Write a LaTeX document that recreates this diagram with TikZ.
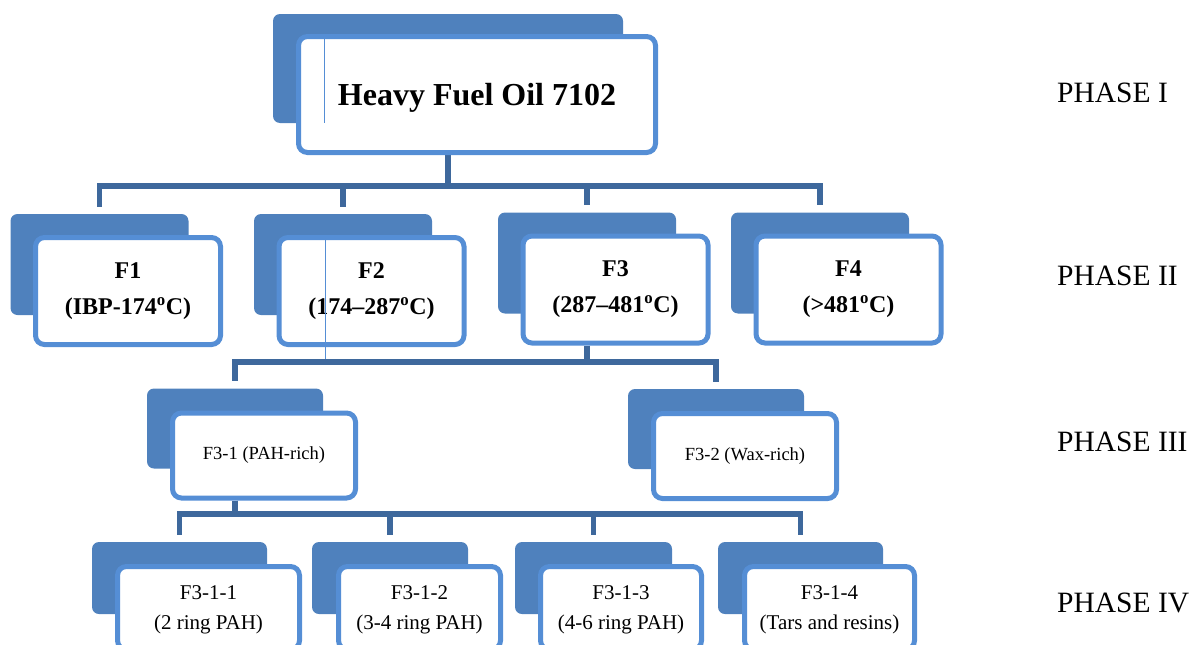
\documentclass[tikz,border=0pt]{standalone}
\usepackage{fontspec}
\setmainfont{Liberation Serif}
\usetikzlibrary{backgrounds,shadows}
\definecolor{shadeblue}{RGB}{79,129,189}
\definecolor{rimblue}{RGB}{85,142,213}
\definecolor{linkblue}{RGB}{62,104,156}

\begin{document}
\begin{tikzpicture}[x=1pt,y=-1pt,
  back box/.style={fill=shadeblue,rounded corners=7pt,inner sep=0pt},
  front box/.style={draw=rimblue,line width=5pt,fill=white,rounded corners=9pt,inner sep=0pt,align=center},
  link/.style={draw=linkblue,line width=5.5pt,shorten >=7pt},
  seam/.style={draw=rimblue,line width=0.8pt},
  phase/.style={anchor=base west,inner sep=0pt,font=\fontsize{29.5}{34}\selectfont},
  big/.style={font=\fontsize{32}{36}\selectfont\bfseries,text depth=0pt},
  cut/.style={font=\fontsize{24}{36}\selectfont\bfseries},
  sub/.style={font=\fontsize{18.5}{22}\selectfont},
  ring/.style={font=\fontsize{21}{30}\selectfont,text depth=0pt}]

\useasboundingbox (0,0) rectangle (1189,645);
\clip (0,0) rectangle (1189,645);

% phase I
\node[back box,minimum width=350pt,minimum height=109pt] (hfob) at (448,68.5) {};
\node[front box,big,minimum width=357pt,minimum height=116pt] (hfo) at (477,94.5) {Heavy Fuel Oil 7102};

% phase II
\node[back box,minimum width=178pt,minimum height=101pt] (f1b) at (99.5,264.5) {};
\node[back box,minimum width=178pt,minimum height=101pt] (f2b) at (343,264.5) {};
\node[back box,minimum width=178pt,minimum height=101pt] (f3b) at (587,263) {};
\node[back box,minimum width=178pt,minimum height=101pt] (f4b) at (820,263) {};
\node[front box,cut,minimum width=185pt,minimum height=107pt] (f1) at ([xshift=28.5pt,yshift=-26.5pt]f1b.center) {F1\\(IBP-174\textsuperscript{o}C)};
\node[front box,cut,minimum width=185pt,minimum height=107pt] (f2) at ([xshift=28.5pt,yshift=-26.5pt]f2b.center) {F2\\(174–287\textsuperscript{o}C)};
\node[front box,cut,minimum width=185pt,minimum height=107pt] (f3) at ([xshift=28.5pt,yshift=-26.5pt]f3b.center) {F3\\(287–481\textsuperscript{o}C)};
\node[front box,cut,minimum width=185pt,minimum height=107pt] (f4) at ([xshift=28.5pt,yshift=-26.5pt]f4b.center) {F4\\(>481\textsuperscript{o}C)};

% phase III
\node[back box,minimum width=176pt,minimum height=80pt] (f31b) at (235,428.5) {};
\node[back box,minimum width=176pt,minimum height=80pt] (f32b) at (716,429) {};
\node[front box,sub,minimum width=183pt,minimum height=85pt] (f31) at ([xshift=29pt,yshift=-27pt]f31b.center) {F3-1 (PAH-rich)};
\node[front box,sub,minimum width=183pt,minimum height=85pt,drop shadow={opacity=0.25,shadow xshift=1.5pt,shadow yshift=-1.5pt}] (f32) at ([xshift=29pt,yshift=-27pt]f32b.center) {F3-2 (Wax-rich)};

% phase IV
\node[back box,minimum width=175pt,minimum height=72pt] (f311b) at (179.5,578) {};
\node[back box,minimum width=156pt,minimum height=72pt] (f312b) at (390,578) {};
\node[back box,minimum width=157pt,minimum height=72pt] (f313b) at (593.5,578) {};
\node[back box,minimum width=165pt,minimum height=72pt] (f314b) at (800.5,578) {};
\node[front box,ring,minimum width=182pt,minimum height=83pt] (f311) at ([xshift=29pt,yshift=-30pt]f311b.center) {F3-1-1\\(2 ring PAH)};
\node[front box,ring,minimum width=162pt,minimum height=83pt] (f312) at ([xshift=29.5pt,yshift=-30pt]f312b.center) {F3-1-2\\(3-4 ring PAH)};
\node[front box,ring,minimum width=161pt,minimum height=83pt] (f313) at ([xshift=27.5pt,yshift=-30pt]f313b.center) {F3-1-3\\(4-6 ring PAH)};
\node[front box,ring,minimum width=170pt,minimum height=83pt] (f314) at ([xshift=29pt,yshift=-30pt]f314b.center) {F3-1-4\\(Tars and resins)};

% bars
\coordinate (bar1) at (0,186);
\coordinate (bar2) at (0,362);
\coordinate (bar3) at (0,514);

\begin{scope}[on background layer]
\draw[link] (hfob.center |- hfo.south) |- (f1b.north |- bar1) -- (f1b.north);
\draw[link] (hfob.center |- hfo.south) |- (f2b.north |- bar1) -- (f2b.north);
\draw[link] (hfob.center |- hfo.south) |- (f3b.north |- bar1) -- (f3b.north);
\draw[link] (hfob.center |- hfo.south) |- (f4b.north |- bar1) -- (f4b.north);

\draw[link] (f3b.center |- f3.south) |- (f31b.north |- bar2) -- (f31b.north);
\draw[link] (f3b.center |- f3.south) |- (f32b.north |- bar2) -- (f32b.north);

\draw[link] (f31b.center |- f31.south) |- (f311b.north |- bar3) -- (f311b.north);
\draw[link] (f31b.center |- f31.south) |- (f312b.north |- bar3) -- (f312b.north);
\draw[link] (f31b.center |- f31.south) |- (f313b.north |- bar3) -- (f313b.north);
\draw[link] (f31b.center |- f31.south) |- (f314b.north |- bar3) -- (f314b.north);
\end{scope}

\draw[seam] (324,34) -- (324,123);
\draw[seam] (325,235) -- (325,359);

% phase labels
\node[phase] (p1) at (1057,102) {PHASE I};
\node[phase] (p2) at (1057,285) {PHASE II};
\node[phase] (p3) at (1057,451) {PHASE III};
\node[phase] (p4) at (1057,612) {PHASE IV};

\end{tikzpicture}
\end{document}
